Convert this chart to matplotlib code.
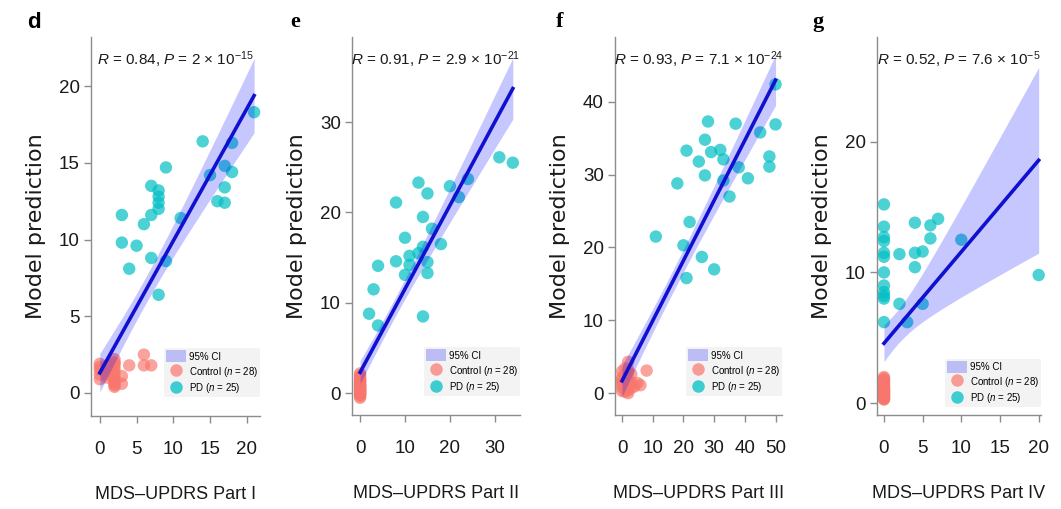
import numpy as np
import matplotlib
matplotlib.use('Agg')
import matplotlib.pyplot as plt
from matplotlib.patches import Patch
from matplotlib.lines import Line2D

plt.rcParams['font.family'] = ['Liberation Sans', 'DejaVu Sans']
plt.rcParams['mathtext.fontset'] = 'custom'
plt.rcParams['mathtext.rm'] = 'Liberation Sans'
plt.rcParams['mathtext.it'] = 'Liberation Sans:italic'

# ---- data ----
# d: MDS-UPDRS Part I
pd_d_x = [21, 14, 18, 9, 15, 17, 18, 17, 7, 8, 8, 8, 16, 17, 3, 7, 6, 11, 3, 5, 7, 9, 4, 8, 8]
pd_d_y = [18.3, 16.4, 16.3, 14.7, 14.2, 14.8, 14.4, 13.4, 13.5, 13.2, 12.8, 12.4, 12.5, 12.4, 11.6,
          11.6, 11.0, 11.4, 9.8, 9.6, 8.8, 8.6, 8.1, 6.4, 12.0]
ctrl_d_x = [0, 0, 0, 0, 1, 1, 1, 1, 2, 2, 2, 2, 2, 2, 2, 2, 2, 2, 3, 3, 4, 6, 6, 7, 0, 1, 2, 2]
ctrl_d_y = [1.9, 1.5, 1.2, 0.9, 1.8, 1.4, 1.0, 1.6, 2.0, 1.7, 1.3, 1.0, 0.8, 0.6, 0.5, 0.4, 1.9, 2.2,
            0.6, 1.1, 1.8, 2.5, 1.8, 1.8, 1.7, 1.2, 0.7, 1.5]

# e: MDS-UPDRS Part II
pd_e_x = [31, 34, 13, 15, 20, 24, 22, 8, 14, 16, 10, 18, 14, 11, 8, 4, 11, 15, 15, 10, 3, 2, 4, 14, 13]
pd_e_y = [26.1, 25.5, 23.3, 22.1, 22.9, 23.7, 21.7, 21.1, 19.5, 18.2, 17.2, 16.5, 16.2, 15.2, 14.6,
          14.1, 14.2, 14.5, 13.3, 13.1, 11.5, 8.8, 7.5, 8.5, 15.5]
ctrl_e_x = [0] * 28
ctrl_e_y = [2.2, 2.0, 1.8, 1.6, 1.5, 1.4, 1.3, 1.2, 1.1, 1.0, 0.9, 0.8, 0.8, 0.7, 0.6, 0.5, 0.5, 0.4,
            0.3, 0.3, 0.2, 0.1, 0.0, 0.0, -0.1, -0.2, -0.3, -0.5]

# f: MDS-UPDRS Part III
pd_f_x = [50, 28, 37, 50, 45, 27, 29, 21, 32, 33, 25, 48, 48, 27, 38, 41, 33, 18, 35, 22, 11, 20, 26, 30, 21]
pd_f_y = [42.4, 37.3, 37.0, 36.9, 35.8, 34.8, 33.1, 33.3, 33.4, 32.1, 31.8, 32.5, 31.1, 29.9, 31.0,
          29.5, 29.2, 28.8, 27.0, 23.5, 21.5, 20.3, 18.7, 17.0, 15.8]
ctrl_f_x = [0, 0, 0, 0, 0, 1, 1, 1, 1, 2, 2, 2, 2, 2, 2, 3, 3, 3, 0, 1, 2, 5, 6, 8, 0, 1, 2, 4]
ctrl_f_y = [3.0, 2.2, 1.5, 0.8, 0.3, 2.5, 1.8, 1.0, 0.5, 4.3, 3.2, 2.0, 1.2, 0.4, 0.0, 1.5, 0.8, 2.6,
            1.9, 3.4, 2.8, 1.4, 1.1, 3.1, 1.2, 0.2, 1.6, 0.9]

# g: MDS-UPDRS Part IV
pd_g_x = [0, 0, 0, 0, 0, 0, 0, 0, 0, 0, 0, 0, 2, 2, 3, 4, 4, 4, 5, 5, 6, 6, 7, 10, 20]
pd_g_y = [15.2, 13.5, 12.7, 12.4, 11.2, 10.0, 8.5, 8.2, 8.0, 6.2, 9.0, 11.5, 11.4, 7.6, 6.2, 13.8,
          11.5, 10.4, 11.6, 7.6, 13.6, 12.6, 14.1, 12.5, 9.8]
ctrl_g_x = [0] * 28
ctrl_g_y = [2.0, 1.9, 1.8, 1.7, 1.6, 1.5, 1.4, 1.3, 1.2, 1.2, 1.1, 1.0, 1.0, 0.9, 0.9, 0.8, 0.8, 0.7,
            0.7, 0.6, 0.6, 0.5, 0.5, 0.4, 0.4, 0.3, 0.3, 1.1]

panel_letters = ['d', 'e', 'f', 'g']
x_titles = ['MDS\u2013UPDRS Part I', 'MDS\u2013UPDRS Part II', 'MDS\u2013UPDRS Part III', 'MDS\u2013UPDRS Part IV']
r_vals = ['0.84', '0.91', '0.93', '0.52']
p_mant = ['2', '2.9', '7.1', '7.6']
p_exp = ['-15', '-21', '-24', '-5']
x_ticks = [[0, 5, 10, 15, 20], [0, 10, 20, 30], [0, 10, 20, 30, 40, 50], [0, 5, 10, 15, 20]]
y_ticks = [[0, 5, 10, 15, 20], [0, 10, 20, 30], [0, 10, 20, 30, 40], [0, 10, 20]]

# ---- layout (pixels) ----
W, H = 1061, 509
boxes = [(91, 260, 37, 416), (352, 520, 37, 415), (615, 782, 37, 415), (877, 1041, 37, 415)]
xlims = [(-1.2, 21.8), (-1.8, 35.6), (-2.3, 52.1), (-0.9, 20.3)]
ylims = [(-1.5, 23.2), (-2.4, 39.4), (-3.0, 48.9), (-0.9, 28.0)]
letter_x = [27, 290, 556, 812]
leg_y = [0.05, 0.05, 0.05, 0.02]

ctrl_col = '#F8766D'
pd_col = '#00BFC4'
axis_col = '#8c8c8c'
T975 = 2.0076  # t quantile, df = 51

def lm_band(x, y):
    x = np.asarray(x, float); y = np.asarray(y, float)
    b1, b0 = np.polyfit(x, y, 1)
    xs = np.linspace(x.min(), x.max(), 100)
    n = len(x)
    s = np.sqrt(np.sum((y - (b0 + b1 * x)) ** 2) / (n - 2))
    se = s * np.sqrt(1 / n + (xs - x.mean()) ** 2 / np.sum((x - x.mean()) ** 2))
    fit = b0 + b1 * xs
    return xs, fit, fit - T975 * se, fit + T975 * se

fig = plt.figure(figsize=(W / 100, H / 100), dpi=100)

data = [(pd_d_x, pd_d_y, ctrl_d_x, ctrl_d_y), (pd_e_x, pd_e_y, ctrl_e_x, ctrl_e_y),
        (pd_f_x, pd_f_y, ctrl_f_x, ctrl_f_y), (pd_g_x, pd_g_y, ctrl_g_x, ctrl_g_y)]

for i, (px, py, cx, cy) in enumerate(data):
    l, r, t, b = boxes[i]
    ax = fig.add_axes([l / W, (H - b) / H, (r - l) / W, (b - t) / H])
    ax.scatter(cx, cy, s=80, color=ctrl_col, alpha=0.68, edgecolors='none', zorder=2, clip_on=False)
    ax.scatter(px, py, s=80, color=pd_col, alpha=0.7, edgecolors='none', zorder=2, clip_on=False)
    xs, fit, lo, hi = lm_band(list(px) + list(cx), list(py) + list(cy))
    ax.fill_between(xs, lo, hi, color='#0000ff', alpha=0.22, lw=0, zorder=3)
    ax.plot(xs, fit, color='#1010d0', lw=2.6, zorder=4)

    ax.set_xlim(*xlims[i]); ax.set_ylim(*ylims[i])
    ax.set_xticks(x_ticks[i]); ax.set_yticks(y_ticks[i])
    for sp in ['top', 'right']:
        ax.spines[sp].set_visible(False)
    for sp in ['left', 'bottom']:
        ax.spines[sp].set_color(axis_col)
        ax.spines[sp].set_linewidth(1.0)
    ax.tick_params(axis='both', colors=axis_col, length=5, width=1, labelsize=13.5, labelcolor='#1a1a1a')
    ax.tick_params(axis='x', pad=13)
    ax.tick_params(axis='y', pad=3)

    ax.set_xlabel(x_titles[i], fontsize=13, color='#1a1a1a')
    ax.xaxis.label.set_va('center')
    ax.xaxis.set_label_coords(0.5, -0.208)
    ax.set_ylabel('Model prediction', fontsize=16, color='#1a1a1a', family='DejaVu Sans')
    ax.yaxis.label.set_va('center')
    ax.yaxis.set_label_coords(-55 / (r - l), 0.5)

    ax.text(0.5, 0.925, r'$\it{R}$ = ' + r_vals[i] + r', $\it{P}$ = ' + p_mant[i] + ' \u00d7 10$^{' + p_exp[i] + '}$',
            transform=ax.transAxes, ha='center', va='baseline', fontsize=11, color='#1a1a1a')

    handles = [Patch(facecolor='#0000ff', alpha=0.22, edgecolor='none'),
               Line2D([], [], marker='o', ls='none', markersize=9, markerfacecolor=ctrl_col,
                      markeredgecolor='none', alpha=0.7),
               Line2D([], [], marker='o', ls='none', markersize=9, markerfacecolor=pd_col,
                      markeredgecolor='none', alpha=0.75)]
    labels = ['95% CI', r'Control ($\it{n}$ = 28)', r'PD ($\it{n}$ = 25)']
    leg = ax.legend(handles, labels, loc='lower right', bbox_to_anchor=(1.0, leg_y[i]), fontsize=7,
                    frameon=True, facecolor='#f3f3f3', edgecolor='none', framealpha=1,
                    handlelength=2.0, handleheight=1.5, handletextpad=0.3, labelspacing=0.25,
                    borderpad=0.2, borderaxespad=0.0)
    leg.set_zorder(5)

    fig.text(letter_x[i] / W, 1 - 22 / H, panel_letters[i], fontsize=16, fontweight='bold',
             ha='left', va='center', family='Liberation Serif' if i else 'Liberation Sans')

fig.savefig('out.png', dpi=100)
